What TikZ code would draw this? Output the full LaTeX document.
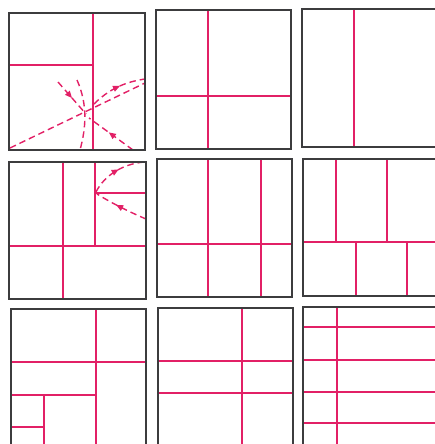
\documentclass[tikz,border=0pt]{standalone}
\usetikzlibrary{arrows.meta,decorations.markings}
\definecolor{frame}{RGB}{60,60,62}
\definecolor{rub}{RGB}{226,32,102}
\tikzset{
  sq/.style={draw=frame,line width=1.4pt},
  cut/.style={draw=rub,line width=1.2pt},
  fold/.style={draw=rub,line width=1.4pt,dash pattern=on 6.5pt off 4pt},
  mid arrow/.style={postaction={decorate,decoration={markings,
     mark=at position #1 with {\arrow[rub]{Triangle[length=7pt,width=6pt]}}}}}
}
\begin{document}
\begin{tikzpicture}[x=1pt,y=-1pt]
\useasboundingbox (0,0) rectangle (435,444);
\clip (0,0) rectangle (435,444);
% ---------- row 1 ----------
% square 1
\draw[cut] (93,13) -- (93,150);
\draw[cut] (9,65) -- (93,65);
\draw[fold] (10,148) -- (145,83);
\draw[fold,mid arrow=0.55] (94,104) .. controls (108,90) and (124,82) .. (145,79);
\draw[fold,mid arrow=0.5] (58,82) -- (86,114);
\draw[fold,mid arrow=0.55] (133,150) -- (89,118);
\draw[fold] (77,80) .. controls (88,105) and (86,128) .. (80,150);
\draw[sq] (9,13) rectangle (145,150);
% square 2
\draw[cut] (208,10) -- (208,149);
\draw[cut] (156,96) -- (291,96);
\draw[sq] (156,10) rectangle (291,149);
% square 3
\draw[cut] (354,9) -- (354,147);
\draw[sq] (302,9) rectangle (438,147);
% ---------- row 2 ----------
% square 4
\draw[cut] (63,162) -- (63,299);
\draw[cut] (95,162) -- (95,246);
\draw[cut] (9,246) -- (146,246);
\draw[cut] (95,193) -- (146,193);
\draw[fold,mid arrow=0.55] (96,192) .. controls (104,176) and (122,164) .. (144,162);
\draw[fold,mid arrow=0.6] (146,219) .. controls (125,210) and (110,202) .. (97,194);
\draw[sq] (9,162) rectangle (146,299);
% square 5
\draw[cut] (208,159) -- (208,297);
\draw[cut] (261,159) -- (261,297);
\draw[cut] (157,244) -- (292,244);
\draw[sq] (157,159) rectangle (292,297);
% square 6
\draw[cut] (336,159) -- (336,242);
\draw[cut] (387,159) -- (387,242);
\draw[cut] (303,242) -- (439,242);
\draw[cut] (356,242) -- (356,296);
\draw[cut] (407,242) -- (407,296);
\draw[sq] (303,159) rectangle (439,296);
% ---------- row 3 ----------
% square 7
\draw[cut] (96,309) -- (96,446);
\draw[cut] (11,362) -- (146,362);
\draw[cut] (11,395) -- (96,395);
\draw[cut] (44,395) -- (44,446);
\draw[cut] (11,427) -- (44,427);
\draw[sq] (11,309) rectangle (146,446);
% square 8
\draw[cut] (242,308) -- (242,446);
\draw[cut] (158,361) -- (293,361);
\draw[cut] (158,393) -- (293,393);
\draw[sq] (158,308) rectangle (293,446);
% square 9
\draw[cut] (337,307) -- (337,446);
\draw[cut] (303,327) -- (439,327);
\draw[cut] (303,360) -- (439,360);
\draw[cut] (303,392) -- (439,392);
\draw[cut] (303,423) -- (439,423);
\draw[sq] (303,307) rectangle (439,446);
\end{tikzpicture}
\end{document}
